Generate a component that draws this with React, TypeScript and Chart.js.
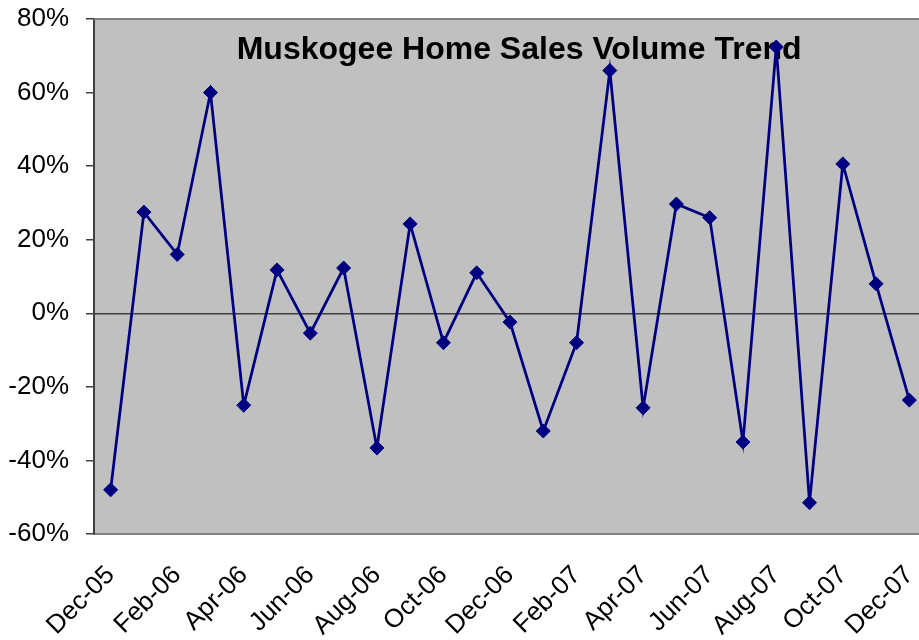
import React, { useEffect, useRef } from "react";
import { Chart, registerables } from "chart.js";

Chart.register(...registerables);

const months: string[] = [
  "Dec-05", "Jan-06", "Feb-06", "Mar-06", "Apr-06", "May-06", "Jun-06", "Jul-06", "Aug-06",
  "Sep-06", "Oct-06", "Nov-06", "Dec-06", "Jan-07", "Feb-07", "Mar-07", "Apr-07", "May-07",
  "Jun-07", "Jul-07", "Aug-07", "Sep-07", "Oct-07", "Nov-07", "Dec-07",
];

const volumeChange: number[] = [
  -48, 27.5, 16, 60, -25, 11.8, -5.4, 12.3, -36.6, 24.3, -8, 11, -2.4,
  -32, -8, 66, -25.7, 29.7, 26, -35, 72.4, -51.5, 40.6, 8, -23.6,
];

const yMin = -60;
const yMax = 80;
const yStep = 20;

const chartTitle = "Muskogee Home Sales Volume Trend";
const FONT = "'Liberation Sans', Arial, sans-serif";

const plotStyle = {
  id: "plotStyle",
  beforeDraw(chart: any) {
    const { ctx, chartArea } = chart;
    ctx.save();
    ctx.fillStyle = "#c0c0c0";
    ctx.fillRect(chartArea.left, chartArea.top, chartArea.right - chartArea.left, chartArea.bottom - chartArea.top);
    ctx.restore();
  },
  beforeDatasetsDraw(chart: any) {
    const { ctx, chartArea } = chart;
    ctx.save();
    ctx.strokeStyle = "#808080";
    ctx.lineWidth = 2;
    ctx.beginPath();
    ctx.moveTo(chartArea.left, chartArea.top);
    ctx.lineTo(chartArea.right, chartArea.top);
    ctx.stroke();
    ctx.fillStyle = "#000000";
    ctx.font = `bold 32px ${FONT}`;
    ctx.textAlign = "center";
    ctx.textBaseline = "middle";
    const cx = chartArea.left + (chartArea.right - chartArea.left) * 0.511;
    ctx.fillText(chartTitle, cx, chartArea.top + 31);
    ctx.restore();
  },
};

export default function App() {
  const ref = useRef<HTMLCanvasElement | null>(null);
  useEffect(() => {
    if (!ref.current) return;
    const chart = new Chart(ref.current, {
      type: "line",
      data: {
        labels: months,
        datasets: [
          {
            data: volumeChange,
            borderColor: "#000080",
            backgroundColor: "#000080",
            borderWidth: 2.75,
            pointStyle: "rectRot",
            pointRadius: 7,
            pointBorderWidth: 1,
            pointBackgroundColor: "#000080",
            pointBorderColor: "#000080",
            tension: 0,
            fill: false,
          },
        ],
      },
      options: {
        responsive: false,
        animation: false,
        layout: { padding: { top: 19, right: 0, left: 0, bottom: 0 } },
        plugins: {
          legend: { display: false },
          title: { display: false },
          tooltip: { enabled: false },
        },
        scales: {
          x: {
            offset: true,
            grid: { display: false, offset: true },
            border: { display: true, color: "#808080", width: 2 },
            ticks: {
              autoSkip: false,
              minRotation: 45,
              maxRotation: 45,
              color: "#000000",
              padding: 18,
              font: { family: FONT, size: 26 },
              callback: (_v: any, i: number) => (i % 2 === 0 ? months[i] : ""),
            },
            afterFit: (scale: any) => {
              scale.height = 106;
              scale.paddingLeft = 0;
              scale.paddingRight = 0;
            },
          },
          y: {
            min: yMin,
            max: yMax,
            ticks: {
              stepSize: yStep,
              color: "#000000",
              padding: 17,
              font: { family: FONT, size: 26 },
              callback: (v: any) => `${v}%`,
            },
            grid: {
              drawOnChartArea: true,
              color: (c: any) => (c.tick && c.tick.value === 0 ? "#404040" : "rgba(0,0,0,0)"),
              lineWidth: 1.5,
              tickColor: "#404040",
              tickLength: 8,
            },
            border: { display: true, color: "#404040", width: 2 },
            afterFit: (scale: any) => {
              scale.width = 94;
              scale.paddingTop = 0;
              scale.paddingBottom = 0;
            },
          },
        },
      },
      plugins: [plotStyle],
    });
    return () => chart.destroy();
  }, []);
  return (
    <div style={{ position: "fixed", left: 0, top: 0, width: 919, height: 640, overflow: "hidden", background: "#ffffff" }}>
      <canvas ref={ref} width={934} height={640} style={{ display: "block" }} />
    </div>
  );
}
